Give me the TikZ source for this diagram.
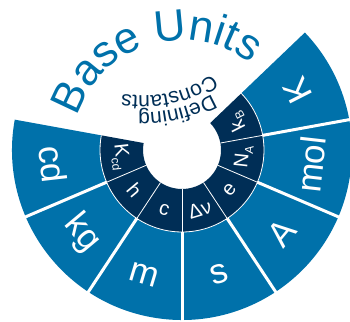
\documentclass[tikz,border=0pt]{standalone}
\usepackage{fontspec}
\setmainfont{Liberation Sans}
\usepackage{tikz}
\usetikzlibrary{decorations.text}
\definecolor{siblue}{RGB}{0,113,170}
\definecolor{sinavy}{RGB}{0,46,86}
\newcommand{\cstsub}[1]{\raisebox{-0.22em}{\fontsize{12}{12}\selectfont #1}}

\begin{document}
\begin{tikzpicture}[
  x=1pt, y=1pt,
  unitlabel/.style={text=white, inner sep=0pt, font=\fontsize{35}{35}\selectfont},
  constlabel/.style={text=white, inner sep=0pt, font=\fontsize{20}{20}\selectfont},
  widesep/.style={draw=white, line width=3pt},
  thinsep/.style={draw=white, line width=0.8pt},
]
\useasboundingbox (-182,-171) rectangle (168,150);
% outer ring: base units
\fill[siblue] (43.71:82) arc[start angle=43.71, end angle=-190.29, radius=82]
  -- (-190.29:170) arc[start angle=-190.29, end angle=43.71, radius=170] -- cycle;
% inner ring: defining constants
\fill[sinavy] (43.71:39) arc[start angle=43.71, end angle=-190.29, radius=39]
  -- (-190.29:82) arc[start angle=-190.29, end angle=43.71, radius=82] -- cycle;
\draw[thinsep] (43.71:82) arc[start angle=43.71, end angle=-190.29, radius=82];
% separators
\draw[widesep] (10.29:82)   -- (10.29:172);
\draw[widesep] (-23.14:82)  -- (-23.14:172);
\draw[widesep] (-56.57:82)  -- (-56.57:172);
\draw[widesep] (-90:82)     -- (-90:172);
\draw[widesep] (-123.43:82) -- (-123.43:172);
\draw[widesep] (-156.86:82) -- (-156.86:172);
\draw[thinsep] (10.29:39)   -- (10.29:82);
\draw[thinsep] (-23.14:39)  -- (-23.14:82);
\draw[thinsep] (-56.57:39)  -- (-56.57:82);
\draw[thinsep] (-90:39)     -- (-90:82);
\draw[thinsep] (-123.43:39) -- (-123.43:82);
\draw[thinsep] (-156.86:39) -- (-156.86:82);
% unit labels
\node[unitlabel, rotate=117]    (kelvin)   at (27:130)      {K};
\node[unitlabel, rotate=83.57]  (mole)     at (-6.43:130)   {mol};
\node[unitlabel, rotate=50.14]  (ampere)   at (-39.86:130)  {A};
\node[unitlabel, rotate=16.71]  (second)   at (-73.29:130)  {s};
\node[unitlabel, rotate=-16.71] (metre)    at (-106.71:130) {m};
\node[unitlabel, rotate=-50.14] (kilogram) at (-140.14:130) {kg};
\node[unitlabel, rotate=-83.57] (candela)  at (-173.57:130) {cd};
% constant labels
\node[constlabel, rotate=117]    (boltzmann) at (27:62)      {k\cstsub{B}};
\node[constlabel, rotate=83.57]  (avogadro)  at (-6.43:62)   {N\cstsub{A}};
\node[constlabel, rotate=50.14]  (charge)    at (-39.86:62)  {e};
\node[constlabel, rotate=16.71]  (caesium)   at (-73.29:62)  {Δν};
\node[constlabel, rotate=-16.71] (light)     at (-106.71:62) {c};
\node[constlabel, rotate=-50.14] (planck)    at (-140.14:62) {h};
\node[constlabel, rotate=-83.57] (efficacy)  at (-173.57:62) {K\cstsub{cd}};
% curved titles
\path[decorate, decoration={text along path, text align=center,
    text={|\fontsize{44}{44}\selectfont\color{siblue}|Base Units}}]
  (177:110) arc[start angle=177, end angle=37, radius=110];
\path[decorate, decoration={text along path, text align=center,
    text={|\fontsize{21}{21}\selectfont\color{sinavy}|Defining}}]
  ([shift={(-40,179)}]-36:142) arc[start angle=-36, end angle=-116, radius=142];
\path[decorate, decoration={text along path, text align=center,
    text={|\fontsize{21}{21}\selectfont\color{sinavy}|Constants}}]
  ([shift={(-40,179)}]-37.5:125) arc[start angle=-37.5, end angle=-117.5, radius=125];
\end{tikzpicture}
\end{document}
